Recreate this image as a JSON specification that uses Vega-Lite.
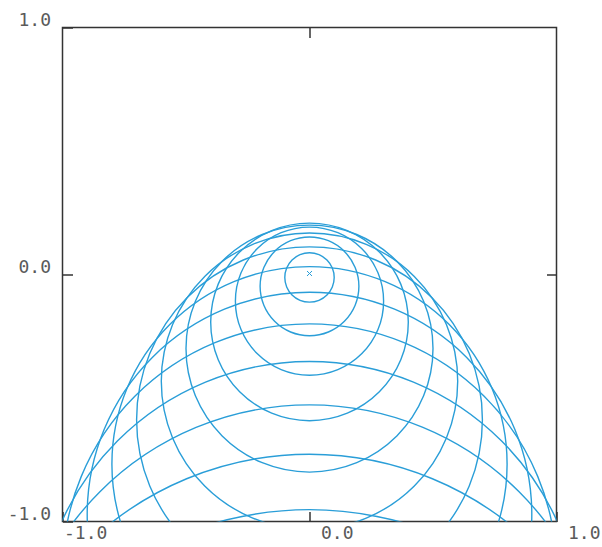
{
  "$schema": "https://vega.github.io/schema/vega-lite/v6.json",
  "width": 494,
  "height": 494,
  "autosize": "none",
  "padding": {"left": 62.5, "top": 27.5, "right": 45.5, "bottom": 25.5},
  "background": "white",
  "config": {
    "view": {"stroke": "#333333", "strokeWidth": 1.5},
    "axis": {
      "grid": false,
      "domain": false,
      "title": null,
      "tickColor": "#333333",
      "tickWidth": 1.5,
      "tickSize": -10,
      "labelFont": "DejaVu Sans Mono",
      "labelFontSize": 18,
      "labelColor": "#5a5a5a"
    }
  },
  "datasets": {
    "circles": [
      {"r":1,"i":0,"x":0.1,"y":-0.012},{"r":1,"i":1,"x":0.0924,"y":0.0263},{"r":1,"i":2,"x":0.0707,"y":0.0587},{"r":1,"i":3,"x":0.0383,"y":0.0804},
      {"r":1,"i":4,"x":0,"y":0.088},{"r":1,"i":5,"x":-0.0383,"y":0.0804},{"r":1,"i":6,"x":-0.0707,"y":0.0587},{"r":1,"i":7,"x":-0.0924,"y":0.0263},
      {"r":1,"i":8,"x":-0.1,"y":-0.012},{"r":1,"i":9,"x":-0.0924,"y":-0.0503},{"r":1,"i":10,"x":-0.0707,"y":-0.0827},{"r":1,"i":11,"x":-0.0383,"y":-0.1044},
      {"r":1,"i":12,"x":0,"y":-0.112},{"r":1,"i":13,"x":0.0383,"y":-0.1044},{"r":1,"i":14,"x":0.0707,"y":-0.0827},{"r":1,"i":15,"x":0.0924,"y":-0.0503},

      {"r":2,"i":0,"x":0.2,"y":-0.048},{"r":2,"i":1,"x":0.1848,"y":0.0285},{"r":2,"i":2,"x":0.1414,"y":0.0934},{"r":2,"i":3,"x":0.0765,"y":0.1368},
      {"r":2,"i":4,"x":0,"y":0.152},{"r":2,"i":5,"x":-0.0765,"y":0.1368},{"r":2,"i":6,"x":-0.1414,"y":0.0934},{"r":2,"i":7,"x":-0.1848,"y":0.0285},
      {"r":2,"i":8,"x":-0.2,"y":-0.048},{"r":2,"i":9,"x":-0.1848,"y":-0.1245},{"r":2,"i":10,"x":-0.1414,"y":-0.1894},{"r":2,"i":11,"x":-0.0765,"y":-0.2328},
      {"r":2,"i":12,"x":0,"y":-0.248},{"r":2,"i":13,"x":0.0765,"y":-0.2328},{"r":2,"i":14,"x":0.1414,"y":-0.1894},{"r":2,"i":15,"x":0.1848,"y":-0.1245},

      {"r":3,"i":0,"x":0.3,"y":-0.108},{"r":3,"i":1,"x":0.2772,"y":0.0068},{"r":3,"i":2,"x":0.2121,"y":0.1041},{"r":3,"i":3,"x":0.1148,"y":0.1692},
      {"r":3,"i":4,"x":0,"y":0.192},{"r":3,"i":5,"x":-0.1148,"y":0.1692},{"r":3,"i":6,"x":-0.2121,"y":0.1041},{"r":3,"i":7,"x":-0.2772,"y":0.0068},
      {"r":3,"i":8,"x":-0.3,"y":-0.108},{"r":3,"i":9,"x":-0.2772,"y":-0.2228},{"r":3,"i":10,"x":-0.2121,"y":-0.3201},{"r":3,"i":11,"x":-0.1148,"y":-0.3852},
      {"r":3,"i":12,"x":0,"y":-0.408},{"r":3,"i":13,"x":0.1148,"y":-0.3852},{"r":3,"i":14,"x":0.2121,"y":-0.3201},{"r":3,"i":15,"x":0.2772,"y":-0.2228},

      {"r":4,"i":0,"x":0.4,"y":-0.192},{"r":4,"i":1,"x":0.3696,"y":-0.0389},{"r":4,"i":2,"x":0.2828,"y":0.0908},{"r":4,"i":3,"x":0.1531,"y":0.1776},
      {"r":4,"i":4,"x":0,"y":0.208},{"r":4,"i":5,"x":-0.1531,"y":0.1776},{"r":4,"i":6,"x":-0.2828,"y":0.0908},{"r":4,"i":7,"x":-0.3696,"y":-0.0389},
      {"r":4,"i":8,"x":-0.4,"y":-0.192},{"r":4,"i":9,"x":-0.3696,"y":-0.3451},{"r":4,"i":10,"x":-0.2828,"y":-0.4748},{"r":4,"i":11,"x":-0.1531,"y":-0.5616},
      {"r":4,"i":12,"x":0,"y":-0.592},{"r":4,"i":13,"x":0.1531,"y":-0.5616},{"r":4,"i":14,"x":0.2828,"y":-0.4748},{"r":4,"i":15,"x":0.3696,"y":-0.3451},

      {"r":5,"i":0,"x":0.5,"y":-0.3},{"r":5,"i":1,"x":0.462,"y":-0.1087},{"r":5,"i":2,"x":0.3536,"y":0.0536},{"r":5,"i":3,"x":0.1913,"y":0.162},
      {"r":5,"i":4,"x":0,"y":0.2},{"r":5,"i":5,"x":-0.1913,"y":0.162},{"r":5,"i":6,"x":-0.3536,"y":0.0536},{"r":5,"i":7,"x":-0.462,"y":-0.1087},
      {"r":5,"i":8,"x":-0.5,"y":-0.3},{"r":5,"i":9,"x":-0.462,"y":-0.4913},{"r":5,"i":10,"x":-0.3536,"y":-0.6536},{"r":5,"i":11,"x":-0.1913,"y":-0.762},
      {"r":5,"i":12,"x":0,"y":-0.8},{"r":5,"i":13,"x":0.1913,"y":-0.762},{"r":5,"i":14,"x":0.3536,"y":-0.6536},{"r":5,"i":15,"x":0.462,"y":-0.4913},

      {"r":6,"i":0,"x":0.6,"y":-0.432},{"r":6,"i":1,"x":0.5543,"y":-0.2024},{"r":6,"i":2,"x":0.4243,"y":-0.0077},{"r":6,"i":3,"x":0.2296,"y":0.1223},
      {"r":6,"i":4,"x":0,"y":0.168},{"r":6,"i":5,"x":-0.2296,"y":0.1223},{"r":6,"i":6,"x":-0.4243,"y":-0.0077},{"r":6,"i":7,"x":-0.5543,"y":-0.2024},
      {"r":6,"i":8,"x":-0.6,"y":-0.432},{"r":6,"i":9,"x":-0.5543,"y":-0.6616},{"r":6,"i":10,"x":-0.4243,"y":-0.8563},{"r":6,"i":11,"x":-0.2296,"y":-0.9863},
      {"r":6,"i":12,"x":0,"y":-1.032},{"r":6,"i":13,"x":0.2296,"y":-0.9863},{"r":6,"i":14,"x":0.4243,"y":-0.8563},{"r":6,"i":15,"x":0.5543,"y":-0.6616},

      {"r":7,"i":0,"x":0.7,"y":-0.588},{"r":7,"i":1,"x":0.6467,"y":-0.3201},{"r":7,"i":2,"x":0.495,"y":-0.093},{"r":7,"i":3,"x":0.2679,"y":0.0587},
      {"r":7,"i":4,"x":0,"y":0.112},{"r":7,"i":5,"x":-0.2679,"y":0.0587},{"r":7,"i":6,"x":-0.495,"y":-0.093},{"r":7,"i":7,"x":-0.6467,"y":-0.3201},
      {"r":7,"i":8,"x":-0.7,"y":-0.588},{"r":7,"i":9,"x":-0.6467,"y":-0.8559},{"r":7,"i":10,"x":-0.495,"y":-1.083},{"r":7,"i":11,"x":-0.2679,"y":-1.2347},
      {"r":7,"i":12,"x":0,"y":-1.288},{"r":7,"i":13,"x":0.2679,"y":-1.2347},{"r":7,"i":14,"x":0.495,"y":-1.083},{"r":7,"i":15,"x":0.6467,"y":-0.8559},

      {"r":8,"i":0,"x":0.8,"y":-0.768},{"r":8,"i":1,"x":0.7391,"y":-0.4618},{"r":8,"i":2,"x":0.5657,"y":-0.2023},{"r":8,"i":3,"x":0.3062,"y":-0.0289},
      {"r":8,"i":4,"x":0,"y":0.032},{"r":8,"i":5,"x":-0.3062,"y":-0.0289},{"r":8,"i":6,"x":-0.5657,"y":-0.2023},{"r":8,"i":7,"x":-0.7391,"y":-0.4618},
      {"r":8,"i":8,"x":-0.8,"y":-0.768},{"r":8,"i":9,"x":-0.7391,"y":-1.0742},{"r":8,"i":10,"x":-0.5657,"y":-1.3337},{"r":8,"i":11,"x":-0.3062,"y":-1.5071},
      {"r":8,"i":12,"x":0,"y":-1.568},{"r":8,"i":13,"x":0.3062,"y":-1.5071},{"r":8,"i":14,"x":0.5657,"y":-1.3337},{"r":8,"i":15,"x":0.7391,"y":-1.0742},

      {"r":9,"i":0,"x":0.9,"y":-0.972},{"r":9,"i":1,"x":0.8315,"y":-0.6276},{"r":9,"i":2,"x":0.6364,"y":-0.3356},{"r":9,"i":3,"x":0.3444,"y":-0.1405},
      {"r":9,"i":4,"x":0,"y":-0.072},{"r":9,"i":5,"x":-0.3444,"y":-0.1405},{"r":9,"i":6,"x":-0.6364,"y":-0.3356},{"r":9,"i":7,"x":-0.8315,"y":-0.6276},
      {"r":9,"i":8,"x":-0.9,"y":-0.972},{"r":9,"i":9,"x":-0.8315,"y":-1.3164},{"r":9,"i":10,"x":-0.6364,"y":-1.6084},{"r":9,"i":11,"x":-0.3444,"y":-1.8035},
      {"r":9,"i":12,"x":0,"y":-1.872},{"r":9,"i":13,"x":0.3444,"y":-1.8035},{"r":9,"i":14,"x":0.6364,"y":-1.6084},{"r":9,"i":15,"x":0.8315,"y":-1.3164},

      {"r":10,"i":0,"x":1,"y":-1.2},{"r":10,"i":1,"x":0.9239,"y":-0.8173},{"r":10,"i":2,"x":0.7071,"y":-0.4929},{"r":10,"i":3,"x":0.3827,"y":-0.2761},
      {"r":10,"i":4,"x":0,"y":-0.2},{"r":10,"i":5,"x":-0.3827,"y":-0.2761},{"r":10,"i":6,"x":-0.7071,"y":-0.4929},{"r":10,"i":7,"x":-0.9239,"y":-0.8173},
      {"r":10,"i":8,"x":-1,"y":-1.2},{"r":10,"i":9,"x":-0.9239,"y":-1.5827},{"r":10,"i":10,"x":-0.7071,"y":-1.9071},{"r":10,"i":11,"x":-0.3827,"y":-2.1239},
      {"r":10,"i":12,"x":0,"y":-2.2},{"r":10,"i":13,"x":0.3827,"y":-2.1239},{"r":10,"i":14,"x":0.7071,"y":-1.9071},{"r":10,"i":15,"x":0.9239,"y":-1.5827},

      {"r":11,"i":0,"x":1.1,"y":-1.452},{"r":11,"i":1,"x":1.0163,"y":-1.031},{"r":11,"i":2,"x":0.7778,"y":-0.6742},{"r":11,"i":3,"x":0.421,"y":-0.4357},
      {"r":11,"i":4,"x":0,"y":-0.352},{"r":11,"i":5,"x":-0.421,"y":-0.4357},{"r":11,"i":6,"x":-0.7778,"y":-0.6742},{"r":11,"i":7,"x":-1.0163,"y":-1.031},
      {"r":11,"i":8,"x":-1.1,"y":-1.452},{"r":11,"i":9,"x":-1.0163,"y":-1.873},{"r":11,"i":10,"x":-0.7778,"y":-2.2298},{"r":11,"i":11,"x":-0.421,"y":-2.4683},
      {"r":11,"i":12,"x":0,"y":-2.552},{"r":11,"i":13,"x":0.421,"y":-2.4683},{"r":11,"i":14,"x":0.7778,"y":-2.2298},{"r":11,"i":15,"x":1.0163,"y":-1.873},

      {"r":12,"i":0,"x":1.2,"y":-1.728},{"r":12,"i":1,"x":1.1087,"y":-1.2688},{"r":12,"i":2,"x":0.8485,"y":-0.8795},{"r":12,"i":3,"x":0.4592,"y":-0.6193},
      {"r":12,"i":4,"x":0,"y":-0.528},{"r":12,"i":5,"x":-0.4592,"y":-0.6193},{"r":12,"i":6,"x":-0.8485,"y":-0.8795},{"r":12,"i":7,"x":-1.1087,"y":-1.2688},
      {"r":12,"i":8,"x":-1.2,"y":-1.728},{"r":12,"i":9,"x":-1.1087,"y":-2.1872},{"r":12,"i":10,"x":-0.8485,"y":-2.5765},{"r":12,"i":11,"x":-0.4592,"y":-2.8367},
      {"r":12,"i":12,"x":0,"y":-2.928},{"r":12,"i":13,"x":0.4592,"y":-2.8367},{"r":12,"i":14,"x":0.8485,"y":-2.5765},{"r":12,"i":15,"x":1.1087,"y":-2.1872},

      {"r":13,"i":0,"x":1.3,"y":-2.028},{"r":13,"i":1,"x":1.2011,"y":-1.5305},{"r":13,"i":2,"x":0.9192,"y":-1.1088},{"r":13,"i":3,"x":0.4975,"y":-0.8269},
      {"r":13,"i":4,"x":0,"y":-0.728},{"r":13,"i":5,"x":-0.4975,"y":-0.8269},{"r":13,"i":6,"x":-0.9192,"y":-1.1088},{"r":13,"i":7,"x":-1.2011,"y":-1.5305},
      {"r":13,"i":8,"x":-1.3,"y":-2.028},{"r":13,"i":9,"x":-1.2011,"y":-2.5255},{"r":13,"i":10,"x":-0.9192,"y":-2.9472},{"r":13,"i":11,"x":-0.4975,"y":-3.2291},
      {"r":13,"i":12,"x":0,"y":-3.328},{"r":13,"i":13,"x":0.4975,"y":-3.2291},{"r":13,"i":14,"x":0.9192,"y":-2.9472},{"r":13,"i":15,"x":1.2011,"y":-2.5255},

      {"r":14,"i":0,"x":1.4,"y":-2.352},{"r":14,"i":1,"x":1.2935,"y":-1.8162},{"r":14,"i":2,"x":0.9899,"y":-1.3621},{"r":14,"i":3,"x":0.5358,"y":-1.0585},
      {"r":14,"i":4,"x":0,"y":-0.952},{"r":14,"i":5,"x":-0.5358,"y":-1.0585},{"r":14,"i":6,"x":-0.9899,"y":-1.3621},{"r":14,"i":7,"x":-1.2935,"y":-1.8162},
      {"r":14,"i":8,"x":-1.4,"y":-2.352},{"r":14,"i":9,"x":-1.2935,"y":-2.8878},{"r":14,"i":10,"x":-0.9899,"y":-3.3419},{"r":14,"i":11,"x":-0.5358,"y":-3.6455},
      {"r":14,"i":12,"x":0,"y":-3.752},{"r":14,"i":13,"x":0.5358,"y":-3.6455},{"r":14,"i":14,"x":0.9899,"y":-3.3419},{"r":14,"i":15,"x":1.2935,"y":-2.8878}
    ],
    "origin": [{"x": 0, "y": 0.004}]
  },
  "layer": [
    {
      "data": {"name": "circles"},
      "mark": {"type": "line", "interpolate": "cardinal-closed", "clip": true, "stroke": "#2a9ed8", "strokeWidth": 1.4},
      "encoding": {
        "x": {
          "field": "x", "type": "quantitative",
          "scale": {"domain": [-1, 1], "nice": false, "zero": false},
          "axis": {
            "orient": "bottom", "values": [-1, 0, 1],
            "labelAlign": "left", "labelBaseline": "top", "labelPadding": 13,
            "labelOffset": {"condition": {"test": "datum.value < 0", "value": 1}, "value": 11},
            "labelExpr": "datum.value < 0 ? '-' + format(-datum.value, '.1f') : format(datum.value, '.1f')"
          }
        },
        "y": {
          "field": "y", "type": "quantitative",
          "scale": {"domain": [-1, 1], "nice": false, "zero": false},
          "axis": {
            "orient": "left", "values": [-1, 0, 1],
            "labelAlign": "right", "labelBaseline": "alphabetic", "labelPadding": 22, "labelOffset": -2,
            "labelExpr": "datum.value < 0 ? '-' + format(-datum.value, '.1f') : format(datum.value, '.1f')"
          }
        },
        "detail": {"field": "r", "type": "nominal"},
        "order": {"field": "i", "type": "quantitative"}
      }
    },
    {
      "data": {"name": "origin"},
      "mark": {"type": "point", "shape": "M-1,-1L1,1M-1,1L1,-1", "size": 25, "filled": false, "stroke": "#2a9ed8", "strokeWidth": 1, "opacity": 1},
      "encoding": {
        "x": {
          "field": "x", "type": "quantitative",
          "scale": {"domain": [-1, 1], "nice": false, "zero": false},
          "axis": {"orient": "top", "values": [0], "labels": false}
        },
        "y": {
          "field": "y", "type": "quantitative",
          "scale": {"domain": [-1, 1], "nice": false, "zero": false},
          "axis": {"orient": "right", "values": [0], "labels": false}
        }
      }
    }
  ],
  "resolve": {"axis": {"x": "independent", "y": "independent"}}
}
